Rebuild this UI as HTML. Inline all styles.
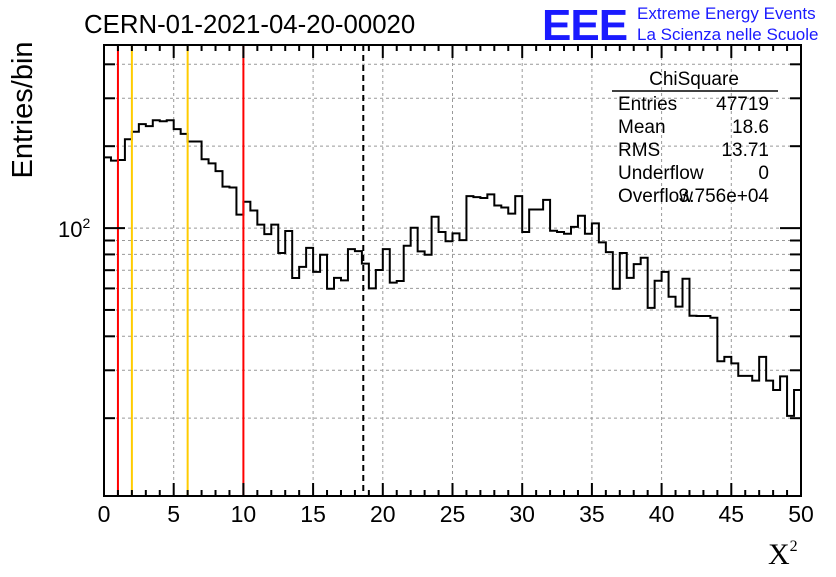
<!DOCTYPE html>
<html><head><meta charset="utf-8"><style>
body{margin:0;background:#fff;}
svg text{font-family:"Liberation Sans",sans-serif;}
svg text.serif{font-family:"Liberation Serif",serif;}
</style></head><body>
<svg id="c" width="836" height="572" xmlns="http://www.w3.org/2000/svg">
<rect width="836" height="572" fill="#fff"/>
<text x="84" y="33" font-size="25.8">CERN-01-2021-04-20-00020</text>
<text x="542" y="40" font-size="44" font-weight="bold" fill="#1a1aff" letter-spacing="-1">EEE</text>
<text x="637" y="19" font-size="17" fill="#1a1aff">Extreme Energy Events</text>
<text x="637" y="40" font-size="17" fill="#1a1aff">La Scienza nelle Scuole</text>
<text transform="translate(32,110) rotate(-90)" text-anchor="middle" font-size="29">Entries/bin</text>
<text class="serif" x="768" y="564" font-size="30">X<tspan font-size="16" dy="-13">2</tspan></text>
<g id="grid"></g><g id="marks"></g><g id="axes"></g>
<g font-size="19">
<text x="694" y="85" text-anchor="middle">ChiSquare</text>
<line x1="612" y1="91" x2="778" y2="91" stroke="#000" stroke-width="1.5"/>
<text x="618" y="110">Entries</text><text x="769" y="110" text-anchor="end">47719</text>
<text x="618" y="133">Mean</text><text x="769" y="133" text-anchor="end">18.6</text>
<text x="618" y="156">RMS</text><text x="769" y="156" text-anchor="end">13.71</text>
<text x="618" y="179">Underflow</text><text x="769" y="179" text-anchor="end">0</text>
<text x="618" y="202">Overflow</text><text x="769" y="202" text-anchor="end">3.756e+04</text>
</g>
</svg>
<script>
const counts=[182,177,178,212,226,241,237,249,247,249,231,222,208,208,179,173,162,142,141,112,125,116,103,95,103,81,97.5,65.5,72,84.6,69,79.8,59.8,65.6,64.2,83.7,82.3,74,60,70.1,83.7,63,63.9,86.1,100.3,82.1,79.8,110,96.7,89.4,95.6,90.3,131,130,129,133,121,119,113,131,96.7,117,117,127,97.7,96.7,95.3,101,111,95.3,104,88.6,81.6,59.8,81,65.6,73.7,77.8,50.9,64,69,55.9,51.4,65.1,47.6,47.5,47.5,46.8,32.4,33.6,31.8,28.6,28.6,27.5,33.6,27.5,25.4,28.5,20.4,25.4];
const xTicks=[0,5,10,15,20,25,30,35,40,45,50];
const redLines=[1,10];
const yellowLines=[2,6];
const meanLine=[18.6];
const yGridVals=[20,30,40,50,60,70,80,90,100,200,300,400];
const X0=104,X1=801,Y0=45,Y1=496,XMIN=0,XMAX=50,YMIN=10.35,YMAX=471;
const NS="http://www.w3.org/2000/svg";
const sx=v=>X0+(v-XMIN)/(XMAX-XMIN)*(X1-X0);
const sy=v=>Y1-(Math.log10(v)-Math.log10(YMIN))/(Math.log10(YMAX)-Math.log10(YMIN))*(Y1-Y0);
function mk(p,t,a){const e=document.createElementNS(NS,t);for(const k in a)e.setAttribute(k,a[k]);p.appendChild(e);return e;}
const grid=document.getElementById('grid'),marks=document.getElementById('marks'),axes=document.getElementById('axes');
xTicks.forEach(v=>{if(v>0&&v<50){const l=mk(grid,'line',{x1:sx(v),x2:sx(v),y1:Y0,y2:Y1,stroke:'#999','stroke-dasharray':'3,3'});

}});
yGridVals.forEach(v=>{const l=mk(grid,'line',{x1:X0,x2:X1,y1:sy(v),y2:sy(v),stroke:'#999','stroke-dasharray':'3,3'});

});
const bw=(XMAX-XMIN)/counts.length;
let d='M'+sx(0)+','+sy(counts[0]);
counts.forEach((c,i)=>{if(i>0)d+=' L'+sx(i*bw)+','+sy(c);d+=' L'+sx((i+1)*bw)+','+sy(c);});
const h=mk(marks,'path',{d:d,fill:'none',stroke:'#000','stroke-width':2});


function vline(v,col,name,dash){const l=mk(marks,'line',{x1:sx(v),x2:sx(v),y1:Y0,y2:Y1,stroke:col,'stroke-width':2});if(dash)l.setAttribute('stroke-dasharray',dash);

}
redLines.forEach(v=>vline(v,'#ff0000','red-cut-line'));
yellowLines.forEach(v=>vline(v,'#ffcc00','yellow-cut-line'));
meanLine.forEach(v=>vline(v,'#000','mean-line','6,4'));
const fr=mk(axes,'rect',{x:X0,y:Y0,width:X1-X0,height:Y1-Y0,fill:'none',stroke:'#000','stroke-width':2});


for(let v=0;v<=50;v++){const L=v%5===0?13:6;
mk(axes,'line',{x1:sx(v),x2:sx(v),y1:Y1,y2:Y1-L,stroke:'#000','stroke-width':2});
mk(axes,'line',{x1:sx(v),x2:sx(v),y1:Y0,y2:Y0+L,stroke:'#000','stroke-width':2});}
xTicks.forEach(v=>{const t=mk(axes,'text',{x:sx(v),y:522,'text-anchor':'middle','font-size':23});t.textContent=v;

});
yGridVals.forEach(v=>{const L=v===100?21:11;
mk(axes,'line',{x1:X0,x2:X0+L,y1:sy(v),y2:sy(v),stroke:'#000','stroke-width':2});
mk(axes,'line',{x1:X1,x2:X1-L,y1:sy(v),y2:sy(v),stroke:'#000','stroke-width':2});});
const yl=mk(axes,'text',{x:58,y:sy(100)+9,'font-size':22});yl.innerHTML='10<tspan font-size="14" dy="-9">2</tspan>';


</script>
</body></html>
